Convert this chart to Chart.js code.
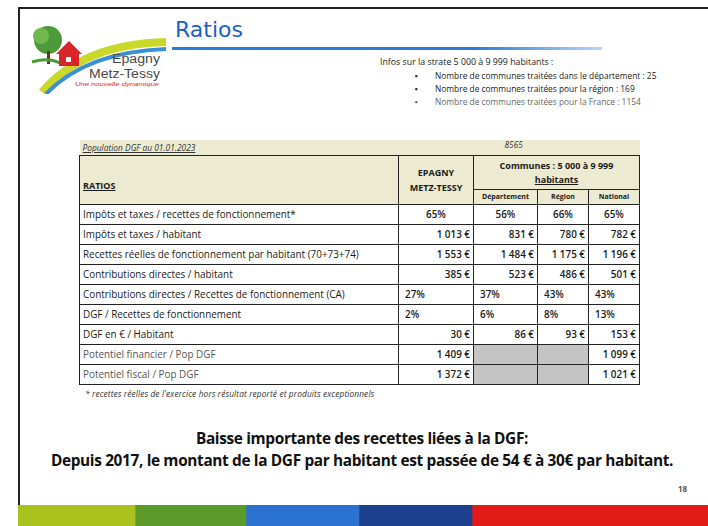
<!DOCTYPE html>
<html lang="fr">
<head>
<meta charset="utf-8">
<script src="https://cdn.jsdelivr.net/npm/chart.js@4.4.1/dist/chart.umd.min.js"></script>
<style>
  html, body { margin: 0; padding: 0; background: #fff; }
  body { width: 708px; height: 526px; position: relative; overflow: hidden; font-family: "Open Sans", sans-serif; color: #1a1a1a; }
  .frame { position: absolute; left: 18px; top: 7px; width: 700px; height: 530px; border-left: 2px solid #222; border-top: 2px solid #222; }
  .title { position: absolute; left: 175px; top: 17px; font-family: "DejaVu Sans", sans-serif; font-size: 22px; color: #1d5fc9; }
  .rule { position: absolute; left: 172px; top: 47px; width: 430px; height: 3px; background: linear-gradient(to right, #2a7ad8 0%, #2a7ad8 70%, #bcd6f2 100%); }
  .info { position: absolute; left: 380px; top: 56px; font-size: 8.8px; line-height: 13px; }
  .info ul { margin: 0; padding: 0 0 0 55px; list-style: none; font-size: 8.4px; }
  .info li { position: relative; }
  .info li:before { content: "\25AA"; position: absolute; left: -20px; }
  .info li.faint { color: #666; }
  table { position: absolute; left: 79px; top: 140px; border-collapse: collapse; font-size: 9.9px; }
  td { border: 1.5px solid #222; padding: 0 3px; height: 19px; white-space: nowrap; }
  .lab { width: 312px; text-align: left; }
  .lab.faint { color: #555; }
  .c1 { width: 68px; } .c2 { width: 57px; } .c3 { width: 44px; } .c4 { width: 44px; }
  .pct { text-align: center; font-weight: 600; }
  td.pctl { text-align: left; padding: 0 0 0 6px; font-weight: 600; }
  .eur { text-align: right; font-weight: 600; }
  .grey { background: #c4c4c4; }
  tr.top td { border: none; border-bottom: 1.5px solid #222; height: 15px; background: #ecebd2; font-style: italic; font-size: 8.4px; color: #333; }
  tr.top td.pop { text-decoration: underline; }
  tr.top td.popval { text-align: left; padding-left: 31px; vertical-align: top; line-height: 9px; }
  .head { background: #ecebd2; font-weight: bold; text-align: center; font-size: 9px; }
  .sub { background: #ecebd2; font-weight: bold; text-align: center; font-size: 7px; height: 13.5px; }
  .note { position: absolute; left: 85px; top: 388px; font-size: 8.4px; font-style: italic; color: #333; letter-spacing: 0.1px; }
  .msg { position: absolute; left: 8px; width: 708px; text-align: center; font-weight: bold; font-size: 15.4px; letter-spacing: -0.35px; color: #111; }
  .page { position: absolute; left: 678px; top: 483px; font-size: 8px; font-weight: bold; color: #555; }
  #strip { position: absolute; left: 18px; top: 505px; }
</style>
</head>
<body>
<div class="frame"></div>

<svg style="position:absolute;left:28px;top:18px" width="140" height="76" viewBox="0 0 140 76">
  <path d="M14 74 Q55 26 138 24" stroke="#c9d82a" stroke-width="8" fill="none"/>
  <path d="M18 76 Q58 34 138 31" stroke="#3a8fd6" stroke-width="4" fill="none"/>
  <circle cx="20" cy="22" r="14" fill="#4c9a3a"/>
  <circle cx="13" cy="18" r="8" fill="#6fb84e"/>
  <rect x="19" y="33" width="3" height="13" fill="#5b3b1e"/>
  <path d="M4 44 Q20 39 32 45" stroke="#4c9a3a" stroke-width="3" fill="none"/>
  <path d="M28 36 L41 23 L54 36 Z" fill="#d8252a"/>
  <rect x="31" y="35" width="20" height="13" fill="#d8252a"/>
  <rect x="38" y="39" width="5" height="5" fill="#fff"/>
  <text x="84" y="45" font-family="Liberation Sans" font-size="12.5" fill="#4a4a4a" textLength="48" lengthAdjust="spacingAndGlyphs">Epagny</text>
  <text x="61" y="60" font-family="Liberation Sans" font-size="13" fill="#4a4a4a" textLength="71" lengthAdjust="spacingAndGlyphs">Metz-Tessy</text>
  <text x="47" y="68" font-family="Liberation Sans" font-style="italic" font-size="5" fill="#d8252a" textLength="84" lengthAdjust="spacingAndGlyphs">Une nouvelle dynamique</text>
</svg>

<div class="title">Ratios</div>
<div class="rule"></div>

<div class="info">
  <div>Infos sur la strate 5 000 à 9 999 habitants :</div>
  <ul id="infoList"></ul>
</div>

<table id="ratios"></table>

<div class="note">* recettes réelles de l'exercice hors résultat reporté et produits exceptionnels</div>
<div class="msg" style="top:428px">Baisse importante des recettes liées à la DGF:</div>
<div class="msg" style="top:450px">Depuis 2017, le montant de la DGF par habitant est passée de 54 € à 30€ par habitant.</div>
<div class="page">18</div>

<canvas id="strip" width="690" height="21"></canvas>

<script>
// Table data
const population = '8565';
const ratioLabels = [
  'Impôts et taxes / recettes de fonctionnement*',
  'Impôts et taxes / habitant',
  'Recettes réelles de fonctionnement par habitant (70+73+74)',
  'Contributions directes / habitant',
  'Contributions directes / Recettes de fonctionnement (CA)',
  'DGF / Recettes de fonctionnement',
  'DGF en € / Habitant',
  'Potentiel financier / Pop DGF',
  'Potentiel fiscal / Pop DGF'
];
const epagny = ['65%', '1 013 €', '1 553 €', '385 €', '27%', '2%', '30 €', '1 409 €', '1 372 €'];
const departement = ['56%', '831 €', '1 484 €', '523 €', '37%', '6%', '86 €', null, null];
const region = ['66%', '780 €', '1 175 €', '486 €', '43%', '8%', '93 €', null, null];
const national = ['65%', '782 €', '1 196 €', '501 €', '43%', '13%', '153 €', '1 099 €', '1 021 €'];

const infoItems = [
  'Nombre de communes traitées dans le département : 25',
  'Nombre de communes traitées pour la région : 169',
  'Nombre de communes traitées pour la France : 1154'
];

// Bottom colour band (share of the width)
const stripShares = [117, 111, 113, 113, 236];
const stripColors = ['#a9c21e', '#5a9b2b', '#2a72d2', '#1c3f8e', '#e21b17'];

// Info list
document.getElementById('infoList').innerHTML = infoItems
  .map((t, i) => `<li${i === 2 ? ' class="faint"' : ''}>${t}</li>`)
  .join('');

// Build the table
function cell(v, cls, row) {
  if (v === null) return `<td class="grey ${cls}"></td>`;
  let kind = 'eur';
  if (v.includes('%')) kind = row === 0 ? 'pct' : 'pctl'; // first row centred, others left
  return `<td class="${cls} ${kind}">${v}</td>`;
}

let html = '';
html += `<tr class="top"><td class="pop">Population DGF au 01.01.2023</td><td></td><td colspan="3" class="popval">${population}</td></tr>`;
html += '<tr><td class="head lab" rowspan="2" style="text-align:left;vertical-align:middle;padding-top:12px"><u>RATIOS</u></td>' +
  '<td class="head c1" rowspan="2" style="line-height:15px">EPAGNY<br>METZ-TESSY</td>' +
  '<td class="head" colspan="3" style="line-height:14px;height:33px">Communes : 5 000 à 9 999<br><u>habitants</u></td></tr>';
html += '<tr><td class="sub c2">Département</td><td class="sub c3">Région</td><td class="sub c4">National</td></tr>';
for (let i = 0; i < ratioLabels.length; i += 1) {
  html += '<tr>' +
    `<td class="lab${i >= 7 ? ' faint' : ''}">${ratioLabels[i]}</td>` +
    cell(epagny[i], 'c1', i) +
    cell(departement[i], 'c2', i) +
    cell(region[i], 'c3', i) +
    cell(national[i], 'c4', i) +
    '</tr>';
}
document.getElementById('ratios').innerHTML = html;

// Colour band drawn as a stacked horizontal bar
new Chart(document.getElementById('strip').getContext('2d'), {
  type: 'bar',
  data: {
    labels: [''],
    datasets: stripShares.map((v, i) => ({
      data: [v],
      backgroundColor: stripColors[i],
      borderWidth: 0,
      barPercentage: 1,
      categoryPercentage: 1
    }))
  },
  options: {
    indexAxis: 'y',
    responsive: false,
    animation: false,
    layout: { padding: 0 },
    plugins: { legend: { display: false }, tooltip: { enabled: false } },
    scales: {
      x: { stacked: true, display: false, min: 0, max: stripShares.reduce((a, b) => a + b, 0) },
      y: { stacked: true, display: false }
    }
  }
});
</script>
</body>
</html>
